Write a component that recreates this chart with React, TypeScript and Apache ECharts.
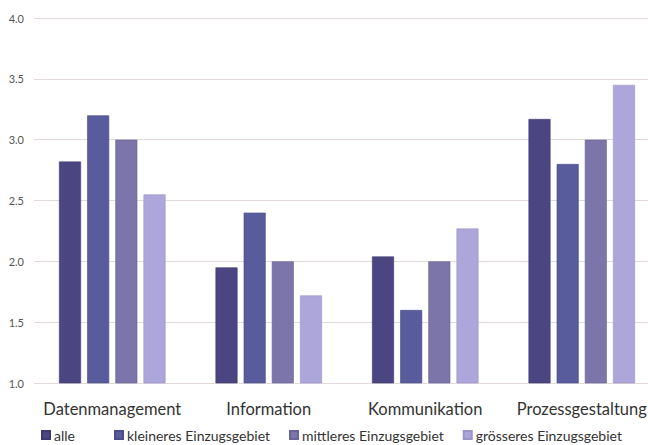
import React, { useEffect, useRef } from "react";
import * as echarts from "echarts";

const categories = ["Datenmanagement", "Information", "Kommunikation", "Prozessgestaltung"];
const seriesNames = ["alle", "kleineres Einzugsgebiet", "mittleres Einzugsgebiet", "grösseres Einzugsgebiet"];
const alle = [2.82, 1.95, 2.04, 3.17];
const kleineres = [3.2, 2.4, 1.6, 2.8];
const mittleres = [3.0, 2.0, 2.0, 3.0];
const groesseres = [2.55, 1.72, 2.27, 3.45];
const colors = ["#4b4682", "#595c9c", "#7b75a9", "#aca6da"];
const borders = ["#3e3a70", "#4a4d88", "#6a6498", "#9a94c8"];

export default function App() {
  const ref = useRef<HTMLDivElement>(null);
  useEffect(() => {
    if (!ref.current) return;
    const chart = echarts.init(ref.current, undefined, { renderer: "svg" });
    const values = [alle, kleineres, mittleres, groesseres];
    const font = "Lato, 'Open Sans', sans-serif";
    const legendText = { fontSize: 14, color: "#333", fontFamily: font, padding: [0, 0, 0, -1] };
    chart.setOption({
      animation: false,
      textStyle: { fontFamily: font },
      grid: { left: 34, top: 18, width: 626, height: 365, containLabel: false },
      legend: [
        {
          data: [seriesNames[0]],
          left: 41,
          top: 428,
          padding: 0,
          itemWidth: 8,
          itemHeight: 8,
          icon: "rect",
          textStyle: legendText,
        },
        {
          data: seriesNames.slice(1),
          left: 114,
          top: 428,
          padding: 0,
          itemWidth: 8,
          itemHeight: 8,
          itemGap: 19,
          icon: "rect",
          textStyle: legendText,
        },
      ],
      xAxis: {
        type: "category",
        data: categories,
        axisLine: { show: false },
        axisTick: { show: false },
        axisLabel: { interval: 0, fontSize: 16.5, color: "#333", margin: 17, fontFamily: font },
      },
      yAxis: {
        type: "value",
        min: 1.0,
        max: 4.0,
        interval: 0.5,
        axisLine: { show: false },
        axisTick: { show: false },
        axisLabel: {
          fontSize: 11,
          color: "#555",
          margin: 10,
          fontFamily: font,
          formatter: (v: number) => v.toFixed(1),
        },
        splitLine: { lineStyle: { color: "#e2d9dc", width: 1 } },
      },
      series: seriesNames.map((name, i) => ({
        name,
        type: "bar",
        data: values[i],
        barWidth: 22,
        barGap: "28%",
        itemStyle: { color: colors[i], borderColor: borders[i], borderWidth: 0.6 },
      })),
    });
    return () => chart.dispose();
  }, []);
  return (
    <div style={{ position: "fixed", left: 0, top: 0, width: 648, height: 445, overflow: "hidden", background: "#fff" }}>
      <div ref={ref} style={{ width: 700, height: 445 }} />
    </div>
  );
}
